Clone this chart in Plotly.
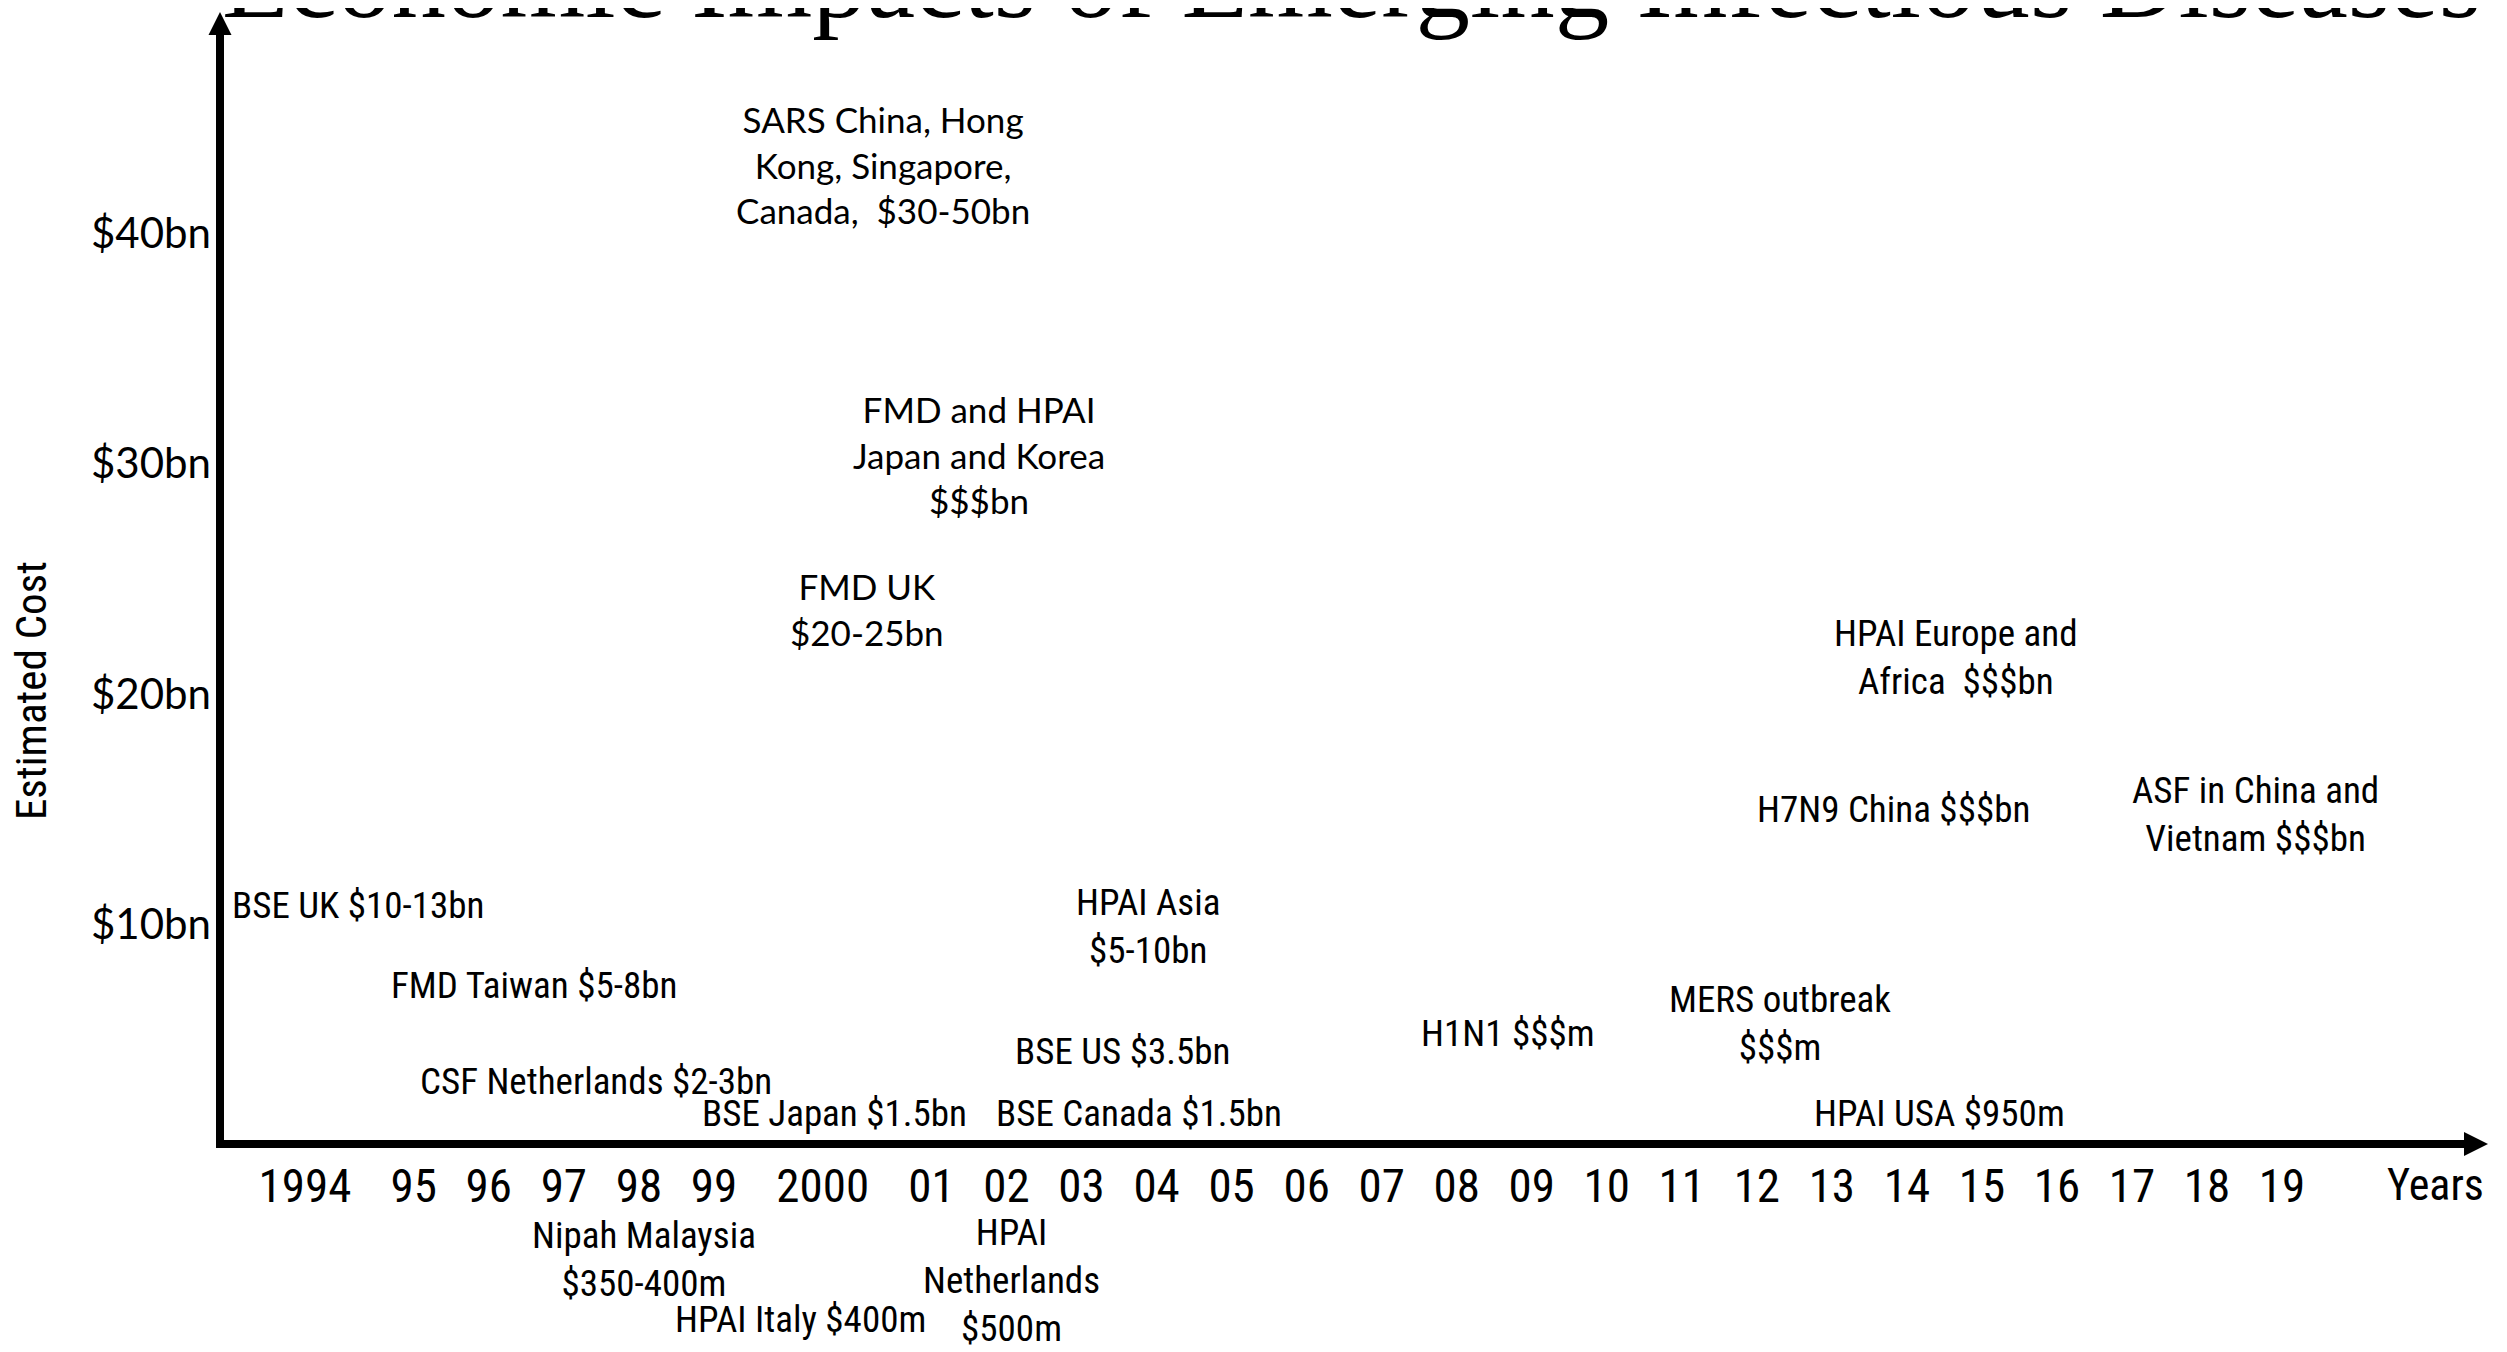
import numpy as np
import plotly.graph_objects as go

# ---------------- data ----------------
tick_years = list(range(1994, 2020))
tick_labels = ["1994", "95", "96", "97", "98", "99", "2000", "01", "02", "03", "04", "05", "06",
               "07", "08", "09", "10", "11", "12", "13", "14", "15", "16", "17", "18", "19"]

y_tick_vals = [10, 20, 30, 40]
y_tick_text = ["$10bn", "$20bn", "$30bn", "$40bn"]

event_labels = [
    "SARS China, Hong<br>Kong, Singapore,<br>Canada,  $30-50bn",
    "FMD and HPAI<br>Japan and Korea<br>$$$bn",
    "FMD UK<br>$20-25bn",
    "HPAI Europe and<br>Africa  $$$bn",
    "H7N9 China $$$bn",
    "ASF in China and<br>Vietnam $$$bn",
    "BSE UK $10-13bn",
    "FMD Taiwan $5-8bn",
    "HPAI Asia<br>$5-10bn",
    "CSF Netherlands $2-3bn",
    "BSE Japan $1.5bn",
    "BSE Canada $1.5bn",
    "BSE US $3.5bn",
    "H1N1 $$$m",
    "MERS outbreak<br>$$$m",
    "HPAI USA $950m",
    "Nipah Malaysia<br>$350-400m",
    "HPAI Italy $400m",
    "HPAI<br>Netherlands<br>$500m",
]
# label position on the timeline (year) and on the cost scale ($bn)
event_year = [2000.55, 2001.63, 2000.41, 2014.65, 2013.82, 2018.64, 1994.49, 1996.60, 2003.89,
              1997.43, 2000.11, 2003.77, 2003.55, 2008.68, 2012.31, 2014.44, 1998.07, 1999.80, 2002.07]
event_cost = [43.0, 30.4, 23.7, 21.6, 15.0, 14.75, 10.8, 7.36, 9.88,
              3.19, 1.8, 1.8, 4.49, 5.27, 5.71, 1.8, -4.58, -7.15, -5.45]
event_style = ["h", "h", "h", "n", "n", "n", "n", "n", "n",
               "n", "n", "n", "n", "n", "n", "n", "n", "n", "n"]

# ---------------- layout helpers ----------------
OFF = 8                                     # browser body margin
W, H = 2507 - OFF, 1352 - OFF
PL, PR, PT, PB = 220, 2465, 34, 1352        # plot area edges in page pixels
AXIS_Y = 1144                               # page pixel row of the time axis
NARROW = "Liberation Sans Narrow, Arial Narrow, Roboto Condensed, Roboto, sans-serif"
HUMAN = "Lato, Open Sans, sans-serif"
SERIF = "Liberation Serif, Times New Roman, DejaVu Serif, serif"


def px(xp):
    return (xp - PL) / (PR - PL)


def py(yp):
    return (PB - yp) / (PB - PT)


# timeline slots: wider spacing next to four-digit labels
slots = [0.0]
for i in range(1, len(tick_labels)):
    wide = len(tick_labels[i]) == 4 or len(tick_labels[i - 1]) == 4
    slots.append(slots[-1] + (1.45 if wide else 1.0))
slots = np.array(slots)
px_per_slot = 75.03
x0_px = 305
x_range = [(PL - x0_px) / px_per_slot, (PR - x0_px) / px_per_slot]

y_px_per = 23.03
y_range = [10 - (PB - 924.2) / y_px_per, 10 + (924.2 - PT) / y_px_per]

ex = np.interp(event_year, tick_years, slots)

fig = go.Figure()
# invisible trace to set up the axes
fig.add_trace(go.Scatter(x=ex, y=event_cost, mode="markers", marker=dict(opacity=0),
                         hoverinfo="skip", showlegend=False))

annotations = []
for lab, xv, yv, st in zip(event_labels, ex, event_cost, event_style):
    annotations.append(dict(
        text=lab, x=xv, y=yv, xref="x", yref="y", showarrow=False,
        xanchor="center", yanchor="middle", align="center",
        font=dict(family=HUMAN if st == "h" else NARROW, size=35 if st == "h" else 37, color="black"),
    ))

shapes = [
    dict(type="line", xref="paper", yref="paper", x0=px(220), x1=px(220), y0=py(1148), y1=py(33),
         line=dict(color="black", width=8)),
    dict(type="line", xref="paper", yref="paper", x0=px(216), x1=px(2466), y0=py(AXIS_Y), y1=py(AXIS_Y),
         line=dict(color="black", width=8)),
    dict(type="path", xref="paper", yref="paper",
         path=f"M {px(208.5)} {py(35)} L {px(220)} {py(12)} L {px(231.5)} {py(35)} Z",
         fillcolor="black", line=dict(color="black", width=0)),
    dict(type="path", xref="paper", yref="paper",
         path=f"M {px(2464)} {py(1132)} L {px(2488)} {py(1144)} L {px(2464)} {py(1156)} Z",
         fillcolor="black", line=dict(color="black", width=0)),
]

annotations += [
    dict(text="Economic Impacts of Emerging Infectious Diseases", xref="paper", yref="paper",
         x=px(220), y=py(43), xanchor="left", yanchor="bottom", showarrow=False,
         font=dict(family=SERIF, size=109, color="black")),
    dict(text="Years", xref="paper", yref="paper", x=px(2486), y=py(1185), xanchor="right",
         yanchor="middle", showarrow=False, font=dict(family=NARROW, size=44, color="black")),
    dict(text="Estimated Cost", xref="paper", yref="paper", x=px(31), y=py(691), textangle=-90,
         xanchor="center", yanchor="middle", showarrow=False,
         font=dict(family=NARROW, size=43, color="black")),
]

fig.update_layout(
    width=W, height=H,
    margin=dict(l=PL - OFF, r=W - (PR - OFF), t=PT - OFF, b=H - (PB - OFF), pad=0),
    paper_bgcolor="white", plot_bgcolor="white",
    shapes=shapes, annotations=annotations,
    xaxis=dict(range=x_range, tickvals=slots, ticktext=tick_labels, showgrid=False, zeroline=False,
               showline=False, ticks="", tickfont=dict(family=NARROW, size=47, color="black"),
               ticklabelstandoff=10, fixedrange=True, anchor="free", position=py(AXIS_Y)),
    yaxis=dict(range=y_range, tickvals=y_tick_vals, ticktext=y_tick_text, showgrid=False,
               zeroline=False, showline=False, ticks="",
               tickfont=dict(family=HUMAN, size=42, color="black"),
               ticklabelstandoff=8, fixedrange=True),
)

fig.write_html("out.html")
